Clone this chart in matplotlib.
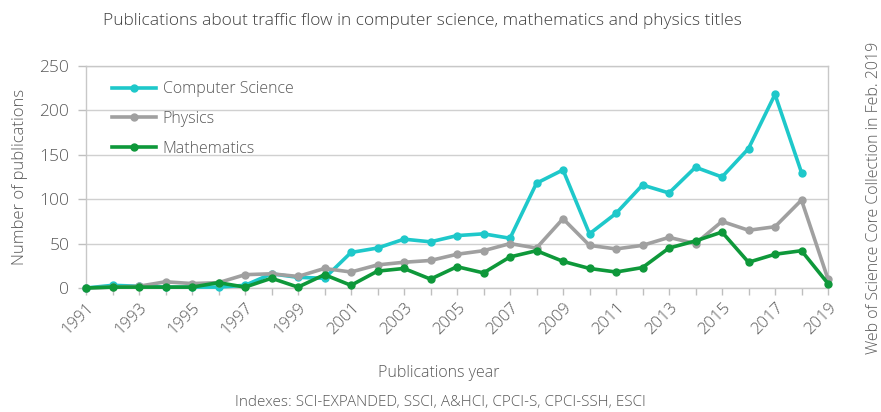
import numpy as np
import matplotlib.pyplot as plt

plt.rcParams['font.family'] = ['Open Sans', 'DejaVu Sans']
plt.rcParams['font.weight'] = 'light'

years = list(range(1991, 2020))

# values (2019 has no computer science point)
computer_science = [0, 3, 2, 1, 1, 1, 3, 16, 12, 11,
                    40, 45, 55, 52, 59, 61, 56, 118, 133, 61,
                    84, 116, 107, 136, 125, 157, 218, 130, np.nan]
physics = [0, 1, 2, 7, 5, 6, 15, 16, 13, 22,
           18, 26, 29, 31, 38, 42, 50, 45, 78, 48,
           44, 48, 57, 50, 75, 65, 69, 99, 10]
mathematics = [0, 1, 1, 1, 1, 6, 1, 11, 1, 15,
               3, 19, 22, 10, 24, 17, 35, 42, 30, 22,
               18, 23, 45, 53, 63, 29, 38, 42, 5]

series = [('Computer Science', computer_science, '#1EC8CA'),
          ('Physics', physics, '#A0A0A0'),
          ('Mathematics', mathematics, '#0E983A')]

text_col = '#595959'
grid_col = '#D0D0D0'

fig = plt.figure(figsize=(8.81, 4.12), dpi=100)
ax = fig.add_axes([86 / 881, 1 - 288 / 412, (828 - 86) / 881, (288 - 66) / 412])

for name, vals, col in series:
    ax.plot(years, vals, color=col, lw=2.6, marker='o', ms=5, label=name,
            solid_joinstyle='round', zorder=3, clip_on=False)

ax.set_xlim(1991, 2019)
ax.set_ylim(0, 250)
ax.set_yticks(range(0, 251, 50))
ax.set_yticklabels([str(v) for v in range(0, 251, 50)], fontsize=12.5, color=text_col)
ax.set_xticks(years, minor=True)
ax.set_xticks(years[::2])
ax.set_xticklabels([str(y) for y in years[::2]], rotation=45, ha='right',
                   rotation_mode='anchor', fontsize=12, color=text_col)
ax.tick_params(axis='x', which='both', length=5, color='#BFBFBF', width=1)
ax.tick_params(axis='y', length=6, color='#BFBFBF', width=1, pad=6)
ax.grid(axis='y', color=grid_col, lw=1)
for s in ax.spines.values():
    s.set_color('#C8C8C8')
    s.set_linewidth(1)

ax.set_ylabel('Number of publications', fontsize=12, color=text_col, labelpad=8,
              fontweight='light')
ax.set_xlabel('Publications year', fontsize=11.5, color=text_col, fontweight='light')
ax.xaxis.set_label_coords(0.475, -0.345)

leg = ax.legend(loc='upper left', bbox_to_anchor=(0.015, 0.995), frameon=False,
                fontsize=11.5, handlelength=2.8, handletextpad=0.4,
                labelspacing=0.85, labelcolor=text_col)

fig.text(0.48, 0.948, 'Publications about traffic flow in computer science, mathematics and physics titles',
         ha='center', va='center', fontsize=12.5, color='#404040')
fig.text(0.5, 0.022, 'Indexes: SCI-EXPANDED, SSCI, A&HCI, CPCI-S, CPCI-SSH, ESCI',
         ha='center', va='center', fontsize=11, color=text_col)
fig.text(0.992, 0.52, 'Web of Science Core Collection in Feb. 2019', rotation=90,
         ha='center', va='center', fontsize=11.5, color=text_col)

fig.savefig('out.png', dpi=100)
